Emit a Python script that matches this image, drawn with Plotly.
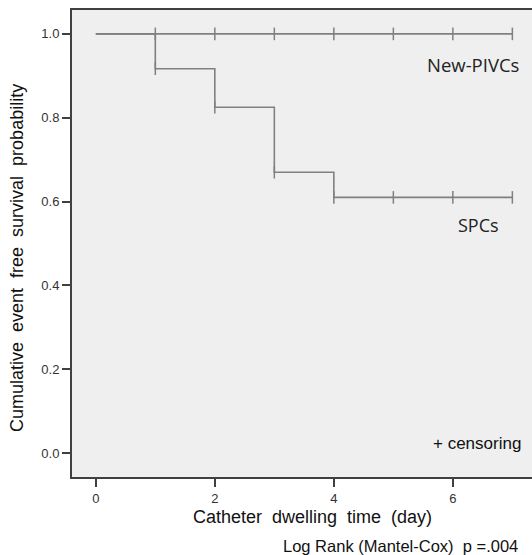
import plotly.graph_objects as go

# Data
days_new = [0, 7]
surv_new = [1.0, 1.0]
cens_new_x = [1, 2, 3, 4, 5, 6, 7]
cens_new_y = [1.0, 1.0, 1.0, 1.0, 1.0, 1.0, 1.0]

days_spc = [0, 1, 2, 3, 4, 7]
surv_spc = [1.0, 0.917, 0.825, 0.670, 0.610, 0.610]
cens_spc_x = [1, 2, 3, 4, 5, 6, 7]
cens_spc_y = [0.917, 0.825, 0.670, 0.610, 0.610, 0.610, 0.610]

x_ticks = [0, 2, 4, 6]
y_ticks = [0.0, 0.2, 0.4, 0.6, 0.8, 1.0]

LINE = "#808080"
AX = "#404040"
AXFONT = "Liberation Sans, Arial, sans-serif"

fig = go.Figure()
fig.add_trace(go.Scatter(x=days_new, y=surv_new, mode="lines", line=dict(color=LINE, width=1.6, shape="hv"),
                         showlegend=False, hoverinfo="skip"))
fig.add_trace(go.Scatter(x=days_spc, y=surv_spc, mode="lines", line=dict(color=LINE, width=1.6, shape="hv"),
                         showlegend=False, hoverinfo="skip"))
fig.add_trace(go.Scatter(x=cens_new_x, y=cens_new_y, mode="markers",
                         marker=dict(symbol="line-ns", size=9, line=dict(color=LINE, width=1.5)),
                         showlegend=False))
fig.add_trace(go.Scatter(x=cens_spc_x, y=cens_spc_y, mode="markers",
                         marker=dict(symbol="line-ns", size=9, line=dict(color=LINE, width=1.5)),
                         showlegend=False))

fig.update_layout(
    width=532, height=555,
    margin=dict(l=72, r=0, t=10, b=78),
    paper_bgcolor="white",
    plot_bgcolor="#efefef",
    xaxis=dict(range=[-0.4, 7.33], tickvals=x_ticks, ticktext=[str(v) for v in x_ticks],
               showgrid=False, zeroline=False, showline=True, linecolor=AX, linewidth=2,
               mirror=True, ticks="outside", ticklen=8, tickcolor=AX, tickwidth=1.5,
               tickfont=dict(family=AXFONT, size=13, color="#333")),
    yaxis=dict(range=[-0.057, 1.057], tickvals=y_ticks, ticktext=[f"{v:.1f}" for v in y_ticks],
               showgrid=False, zeroline=False, showline=True, linecolor=AX, linewidth=2,
               mirror=False, ticks="outside", ticklen=8, tickcolor=AX, tickwidth=1.5,
               tickfont=dict(family=AXFONT, size=13, color="#333")),
)

annots = [
    dict(x=7.15, y=0.928, xref="x", yref="y", text="New-PIVCs", xanchor="right", yanchor="middle",
         font=dict(family="Open Sans, Noto Sans, sans-serif", size=18.5, color="#222")),
    dict(x=6.81, y=0.544, xref="x", yref="y", text="SPCs", xanchor="right", yanchor="middle",
         font=dict(family="Open Sans, Noto Sans, sans-serif", size=18, color="#222")),
    dict(x=7.18, y=0.024, xref="x", yref="y", text="+ censoring", xanchor="right", yanchor="middle",
         font=dict(family=AXFONT, size=17, color="#111")),
    dict(x=312.5 / 532, y=1 - 517 / 555, xref="paper", yref="paper", text="Catheter\u00a0 dwelling\u00a0 time\u00a0 (day)",
         xanchor="center", yanchor="middle", font=dict(family=AXFONT, size=18, color="#111")),
    dict(x=17 / 532, y=1 - 258 / 555, xref="paper", yref="paper",
         text="Cumulative\u00a0 event\u00a0 free\u00a0 survival\u00a0 probability", textangle=-90,
         xanchor="center", yanchor="middle", font=dict(family=AXFONT, size=18, color="#111")),
    dict(x=520 / 532, y=1 - 546 / 555, xref="paper", yref="paper", text="Log Rank (Mantel-Cox)\u00a0 p =.004",
         xanchor="right", yanchor="middle", font=dict(family=AXFONT, size=16.5, color="#111")),
]
# paper coordinates are relative to plot area; convert pixel positions accordingly
pl, pr, pt, pb = 72, 532, 10, 477
for a in annots:
    if a["xref"] == "paper":
        px = a["x"] * 532
        py = (1 - a["y"]) * 555
        a["x"] = (px - pl) / (pr - pl)
        a["y"] = (pb - py) / (pb - pt)
    a["showarrow"] = False
fig.update_layout(annotations=annots)

fig.write_html("out.html", config={"displayModeBar": False},
               post_script="document.body.style.margin='0';document.body.style.overflow='hidden';")
